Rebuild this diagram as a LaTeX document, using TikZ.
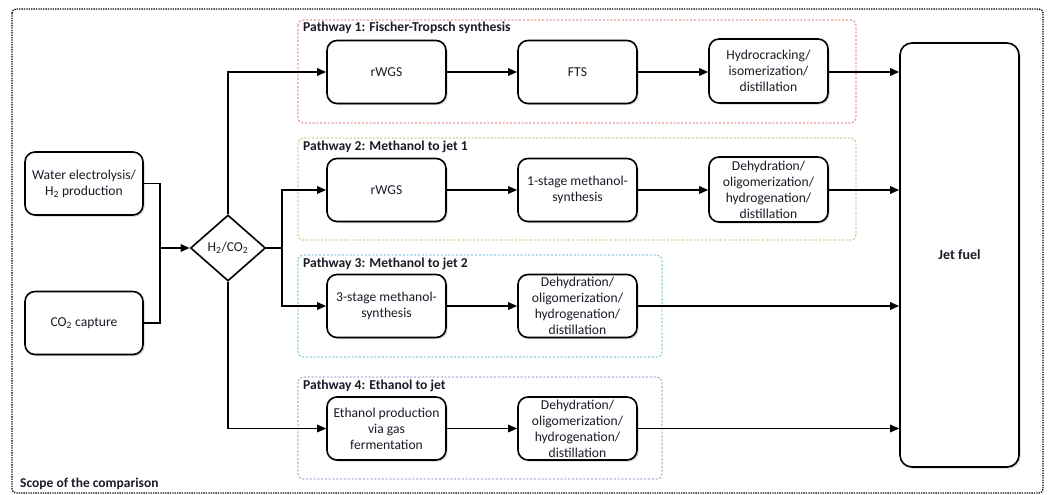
\documentclass[tikz,border=0pt]{standalone}
\usepackage{fontspec}
\setmainfont{Carlito}
\usetikzlibrary{shapes.geometric,arrows.meta,shadows}
\definecolor{pred}{HTML}{E89A9A}
\definecolor{pgreen}{HTML}{BFD89A}
\definecolor{pblue}{HTML}{8DCBDF}
\definecolor{ppurple}{HTML}{BBAED6}
\definecolor{txt}{HTML}{1B1B28}
\begin{document}
\begin{tikzpicture}[x=1pt,y=-1pt,
  proc/.style={draw, line width=1.6pt, rounded corners=10pt, fill=white,
    minimum width=119pt, minimum height=63pt, align=center, inner sep=1pt,
    text=txt, font=\fontsize{13.6}{16}\selectfont,
    drop shadow={shadow xshift=1.6pt, shadow yshift=-1.6pt, opacity=0.35}},
  dec/.style={draw, line width=1.6pt, diamond, fill=white, aspect=1.14,
    minimum width=75pt, minimum height=66pt, inner sep=0pt, text=txt,
    font=\fontsize{13.6}{16}\selectfont},
  conn/.style={line width=1.5pt, -{Triangle[length=9pt,width=7.5pt]}},
  plain/.style={line width=1.5pt},
  frame/.style={line width=1.3pt, rounded corners=5pt, dash pattern=on 2pt off 1.8pt},
  ptitle/.style={anchor=west, inner sep=0pt, font=\bfseries\fontsize{13.6}{16}\selectfont, text=txt}
]
\useasboundingbox (0,0) rectangle (1050,495);
% outer scope frame
\draw[line width=1.3pt, dash pattern=on 1.3pt off 1.1pt, rounded corners=4pt] (12,9) rectangle (1043,493);
\node[anchor=west, inner sep=0pt, font=\bfseries\fontsize{13.5}{16}\selectfont, text=txt] (scope) at (20,484) {Scope of the comparison};

% pathway frames
\draw[frame, pred] (298,20) rectangle (856,123);
\draw[frame, pgreen] (298,138) rectangle (856,240);
\draw[frame, pblue] (298,255) rectangle (662,357);
\draw[frame, ppurple] (298,377) rectangle (662,479);
\node[ptitle] (t1) at (303,28) {Pathway 1: Fischer-Tropsch synthesis};
\node[ptitle] (t2) at (303,147) {Pathway 2: Methanol to jet 1};
\node[ptitle] (t3) at (303,264) {Pathway 3: Methanol to jet 2};
\node[ptitle] (t4) at (303,386) {Pathway 4: Ethanol to jet};

% sources
\node[proc, minimum width=118pt] (water) at (84,183.5) {Water electrolysis/\\H\textsubscript{2} production};
\node[proc, minimum width=118pt] (co2) at (84,323) {CO\textsubscript{2} capture};
\node[dec] (mix) at (228,248) {H\textsubscript{2}/CO\textsubscript{2}};

% pathway 1
\node[proc] (r1) at (386.5,72) {rWGS};
\node[proc] (f1) at (577.5,72) {FTS};
\node[proc, minimum height=64pt] (h1) at (768.5,71) {Hydrocracking/\\isomerization/\\distillation};
% pathway 2
\node[proc] (r2) at (386.5,190) {rWGS};
\node[proc] (m2) at (577.5,190) {1-stage methanol-\\synthesis};
\node[proc, minimum height=65pt] (d2) at (768.5,189.5) {Dehydration/\\oligomerization/\\hydrogenation/\\distillation};
% pathway 3
\node[proc] (m3) at (386.5,306) {3-stage methanol-\\synthesis};
\node[proc] (d3) at (577.5,306) {Dehydration/\\oligomerization/\\hydrogenation/\\distillation};
% pathway 4
\node[proc] (e4) at (386.5,428.5) {Ethanol production\\via gas\\fermentation};
\node[proc] (d4) at (577.5,428.5) {Dehydration/\\oligomerization/\\hydrogenation/\\distillation};

% jet fuel
\node[proc, minimum width=119pt, minimum height=424pt, rounded corners=12pt,
  font=\bfseries\fontsize{14}{17}\selectfont] (jet) at (959.5,255) {Jet fuel};

% connectors from sources
\coordinate (j1) at (160,248);
\draw[plain] (water.east) -| (j1);
\draw[plain] (co2.east) -| (j1);
\draw[conn] (j1) -- (mix.west);
\draw[conn] (mix.north) |- (r1.west);
\coordinate (j2) at (282,248);
\draw[plain] (mix.east) -- (j2);
\draw[conn] (j2) |- (r2.west);
\draw[conn] (j2) |- (m3.west);
\draw[conn] (mix.south) |- (e4.west);

% within pathways
\draw[conn] (r1) -- (f1);
\draw[conn] (f1) -- (f1.east -| h1.west);
\draw[conn] (r2) -- (m2);
\draw[conn] (m2) -- (m2.east -| d2.west);
\draw[conn] (m3) -- (d3);
\draw[conn] (e4) -- (d4);

% to jet fuel
\draw[conn] (h1.east |- r1.east) -- (r1.east -| jet.west);
\draw[conn] (d2.east |- r2.east) -- (r2.east -| jet.west);
\draw[conn] (d3.east) -- (d3.east -| jet.west);
\draw[conn] (d4.east) -- (d4.east -| jet.west);
\end{tikzpicture}
\end{document}
